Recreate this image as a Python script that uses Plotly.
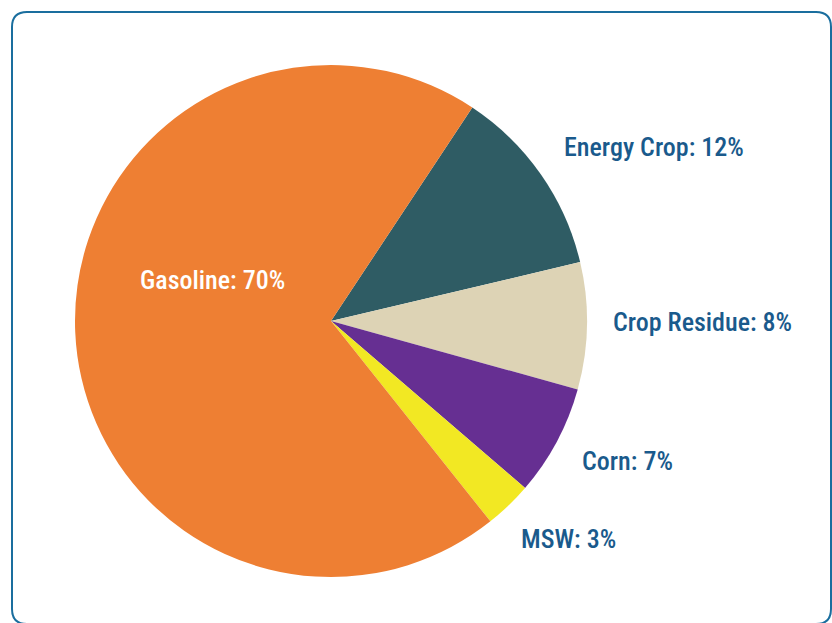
import plotly.graph_objects as go

labels = ["Energy Crop", "Crop Residue", "Corn", "MSW", "Gasoline"]
values = [12, 8, 7, 3, 70]
colors = ["#2F5C64", "#DDD3B5", "#662F92", "#F2E823", "#EE7F33"]
text_colors = ["#1A5A8C", "#1A5A8C", "#1A5A8C", "#1A5A8C", "#FFFFFF"]

# label anchor points in pixels (left edge, vertical middle)
label_px = [(562, 147), (611, 322), (580, 461), (519, 539), (138, 280)]

W, H = 832, 623
FONT = "Liberation Sans Narrow, Arial Narrow, Roboto Condensed, Arial, sans-serif"

total = sum(values)

fig = go.Figure(go.Pie(
    labels=labels,
    values=values,
    sort=False,
    direction="clockwise",
    rotation=33.5,
    marker=dict(colors=colors, line=dict(width=0)),
    textinfo="none",
    showlegend=False,
    hoverinfo="label+percent",
    domain=dict(x=[75 / W, 587 / W], y=[1 - 577 / H, 1 - 65 / H]),
))

for lab, val, col, (lx, ly) in zip(labels, values, text_colors, label_px):
    fig.add_annotation(
        x=lx / W, y=1 - ly / H, xref="paper", yref="paper",
        xanchor="left", yanchor="middle", showarrow=False,
        text=f"{lab}: {round(100 * val / total)}%",
        font=dict(family=FONT, size=26, color=col, weight=500),
    )

# rounded border frame
x0, y0, x1, y1, r = 12, 12, 831, 624, 15
def px(x):
    return x / W
def py(y):
    return 1 - y / H
path = (
    f"M {px(x0 + r)} {py(y0)} L {px(x1 - r)} {py(y0)} "
    f"Q {px(x1)} {py(y0)} {px(x1)} {py(y0 + r)} "
    f"L {px(x1)} {py(y1 - r)} Q {px(x1)} {py(y1)} {px(x1 - r)} {py(y1)} "
    f"L {px(x0 + r)} {py(y1)} Q {px(x0)} {py(y1)} {px(x0)} {py(y1 - r)} "
    f"L {px(x0)} {py(y0 + r)} Q {px(x0)} {py(y0)} {px(x0 + r)} {py(y0)} Z"
)

fig.update_layout(
    width=W, height=H,
    margin=dict(l=0, r=0, t=0, b=0),
    paper_bgcolor="white",
    plot_bgcolor="white",
    shapes=[dict(type="path", xref="paper", yref="paper", path=path,
                 line=dict(color="#1A6E9E", width=2), layer="above")],
)

fig.write_html("out.html")
